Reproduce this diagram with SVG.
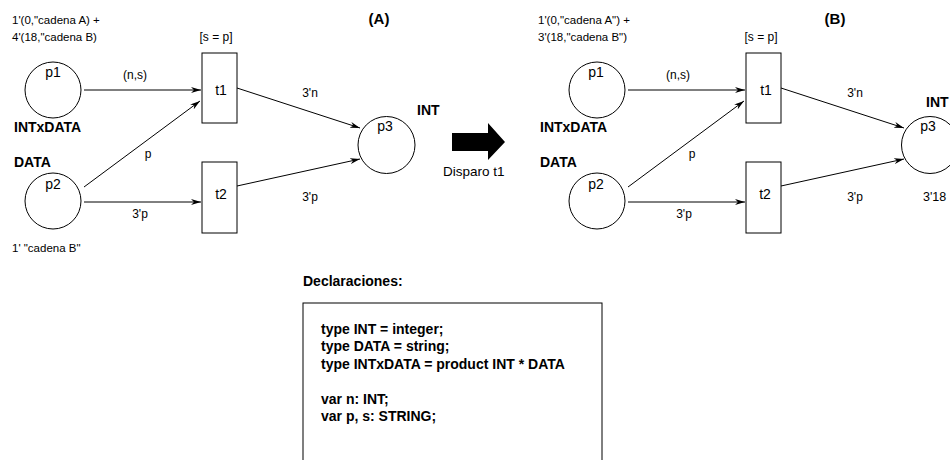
<svg xmlns="http://www.w3.org/2000/svg" width="950" height="460" viewBox="0 0 950 460">
<defs>
<marker id="ah" viewBox="0 0 10 6" refX="10" refY="3" markerWidth="10" markerHeight="6" markerUnits="userSpaceOnUse" orient="auto">
<path d="M0,0 L10,3 L0,6 L3,3 Z" fill="#000"/>
</marker>
<style>
text{font-family:"Liberation Sans",Arial,sans-serif;fill:#000}
.mk{font-size:11.5px}
.al{font-size:12px;text-anchor:middle}
.nm{font-size:14px;text-anchor:middle}
.b{font-weight:bold;font-size:14px}
.pl{fill:#fff;stroke:#000;stroke-width:1}
.tr{fill:#fff;stroke:#000;stroke-width:1}
.arc{stroke:#000;stroke-width:1;fill:none;marker-end:url(#ah)}
.m{text-anchor:middle}
</style>
</defs>
<rect width="950" height="460" fill="#fff"/>

<g id="connectors">
<line class="arc" x1="84" y1="90" x2="201" y2="90"/>
<line class="arc" x1="84" y1="187" x2="200" y2="101"/>
<line class="arc" x1="84" y1="202" x2="201" y2="202"/>
<line class="arc" x1="237" y1="88" x2="360" y2="128"/>
<line class="arc" x1="237" y1="186" x2="360" y2="159"/>
<line class="arc" x1="628" y1="90" x2="745" y2="90"/>
<line class="arc" x1="628" y1="187" x2="744" y2="101"/>
<line class="arc" x1="628" y1="202" x2="745" y2="202"/>
<line class="arc" x1="781" y1="88" x2="904" y2="128"/>
<line class="arc" x1="781" y1="186" x2="904" y2="159"/>
</g>

<g id="arc-labels">
<text class="al" x="135" y="79">(n,s)</text>
<text class="al" x="148" y="158">p</text>
<text class="al" x="140" y="218">3'p</text>
<text class="al" x="310" y="97">3'n</text>
<text class="al" x="310" y="201">3'p</text>
<text class="al" x="678" y="79">(n,s)</text>
<text class="al" x="692" y="158">p</text>
<text class="al" x="684" y="218">3'p</text>
<text class="al" x="855" y="97">3'n</text>
<text class="al" x="855" y="201">3'p</text>
</g>

<!-- Panel A -->
<text class="b m" x="379" y="24" style="font-size:15px">(A)</text>
<g id="A_p1">
<circle class="pl" cx="53" cy="90" r="28"/>
<text class="nm" x="53" y="77">p1</text>
<text class="mk" x="12" y="24">1'(0,"cadena A) +</text>
<text class="mk" x="12" y="41">4'(18,"cadena B)</text>
<text class="b" x="14" y="132">INTxDATA</text>
</g>
<g id="A_p2">
<circle class="pl" cx="53" cy="201" r="28"/>
<text class="nm" x="53" y="189">p2</text>
<text class="b" x="14" y="167">DATA</text>
<text class="mk" x="12" y="252">1' "cadena B"</text>
</g>
<g id="A_t1">
<rect class="tr" x="202" y="53" width="35" height="70"/>
<text class="nm" x="221" y="95">t1</text>
<text class="al" x="216" y="41">[s = p]</text>
</g>
<g id="A_t2">
<rect class="tr" x="202" y="162" width="35" height="71"/>
<text class="nm" x="221" y="199">t2</text>
</g>
<g id="A_p3">
<circle class="pl" cx="386.5" cy="145" r="28.5"/>
<text class="nm" x="385" y="131">p3</text>
<text class="b" x="417" y="115">INT</text>
</g>

<g id="fire">
<path d="M452,133 L488,133 L488,123 L505,142 L488,160 L488,151 L452,151 Z" fill="#000"/>
<text x="443" y="176" style="font-size:13.5px">Disparo t1</text>
</g>

<!-- Panel B -->
<text class="b m" x="835" y="24" style="font-size:15px">(B)</text>
<g id="B_p1">
<circle class="pl" cx="597" cy="90" r="28"/>
<text class="nm" x="596" y="77">p1</text>
<text class="mk" x="538" y="24">1'(0,"cadena A") +</text>
<text class="mk" x="538" y="41">3'(18,"cadena B")</text>
<text class="b" x="540" y="132">INTxDATA</text>
</g>
<g id="B_p2">
<circle class="pl" cx="597" cy="201" r="28"/>
<text class="nm" x="596" y="189">p2</text>
<text class="b" x="540" y="167">DATA</text>
</g>
<g id="B_t1">
<rect class="tr" x="746" y="53" width="35" height="70"/>
<text class="nm" x="766" y="95">t1</text>
<text class="al" x="761" y="41">[s = p]</text>
</g>
<g id="B_t2">
<rect class="tr" x="746" y="162" width="35" height="71"/>
<text class="nm" x="765" y="199">t2</text>
</g>
<g id="B_p3">
<circle class="pl" cx="930" cy="145" r="28.5"/>
<text class="nm" x="928" y="131">p3</text>
<text class="b" x="926" y="107">INT</text>
<text x="923" y="201" style="font-size:12.5px">3'18</text>
</g>

<g id="declarations">
<text class="b" x="303" y="286">Declaraciones:</text>
<rect x="303" y="303" width="299" height="170" fill="#fff" stroke="#000" stroke-width="1"/>
<text class="b" x="321" y="334">type INT = integer;</text>
<text class="b" x="321" y="351">type DATA = string;</text>
<text class="b" x="321" y="369">type INTxDATA = product INT * DATA</text>
<text class="b" x="321" y="404">var n: INT;</text>
<text class="b" x="321" y="421">var p, s: STRING;</text>
</g>
</svg>
